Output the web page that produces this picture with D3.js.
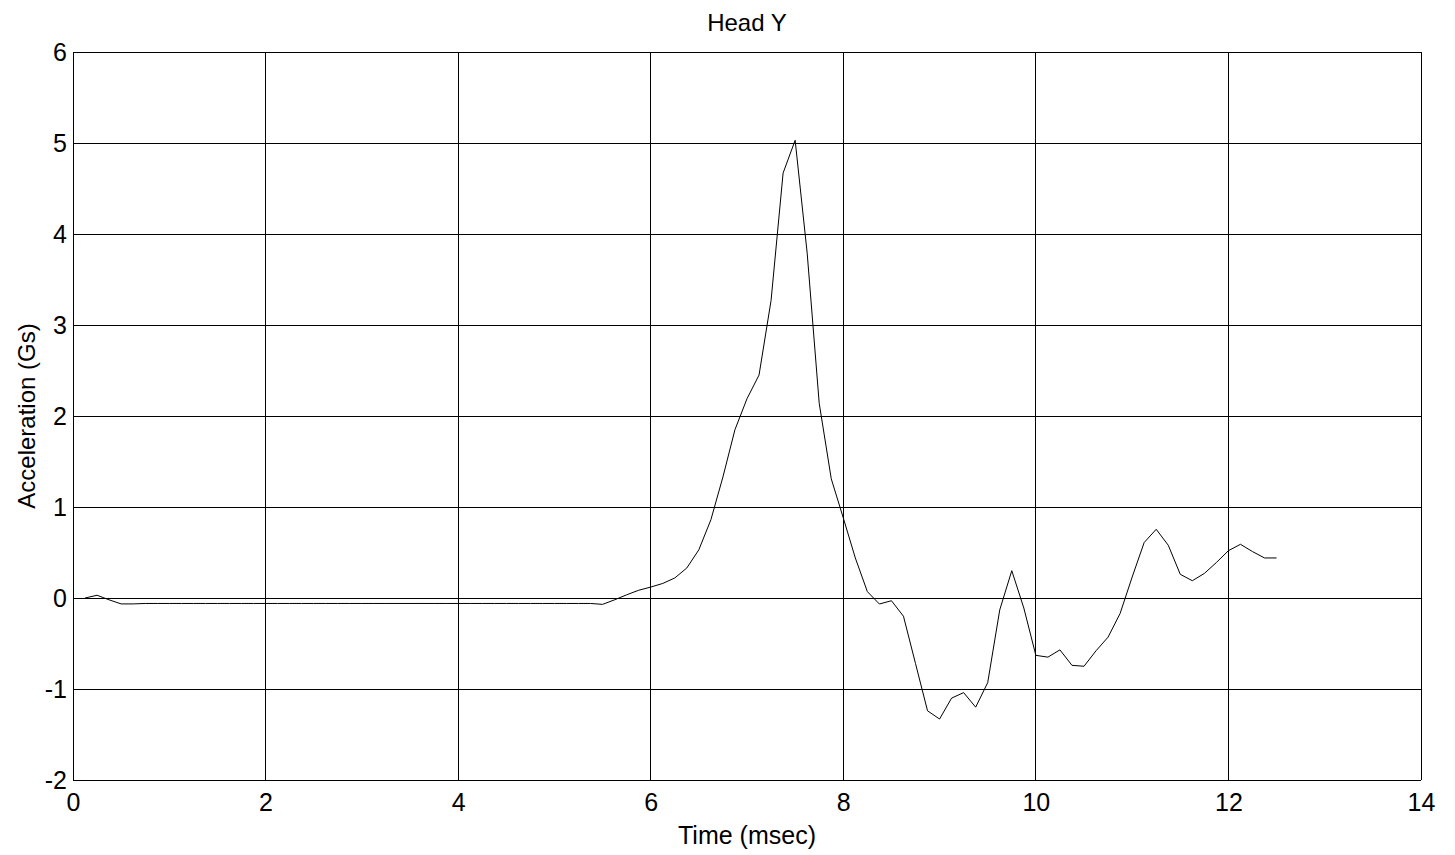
<!DOCTYPE html>
<html>
<head>
<meta charset="utf-8">
<script src="https://cdn.jsdelivr.net/npm/d3@7"></script>
<style>
  html, body { margin: 0; padding: 0; background: #fff; }
  svg { display: block; }
  text { font-family: "Liberation Sans", Arial, sans-serif; fill: #000; }
</style>
</head>
<body>
<svg id="chart" width="1455" height="855"></svg>
<script>
const title = "Head Y";
const xLabel = "Time (msec)";
const yLabel = "Acceleration (Gs)";
const xTicks = [0, 2, 4, 6, 8, 10, 12, 14];
const yTicks = [-2, -1, 0, 1, 2, 3, 4, 5, 6];

const timeMs = [
  0.125, 0.25, 0.375, 0.5, 0.625, 0.75, 0.875, 1.0, 1.125, 1.25,
  1.375, 1.5, 1.625, 1.75, 1.875, 2.0, 2.125, 2.25, 2.375, 2.5,
  2.625, 2.75, 2.875, 3.0, 3.125, 3.25, 3.375, 3.5, 3.625, 3.75,
  3.875, 4.0, 4.125, 4.25, 4.375, 4.5, 4.625, 4.75, 4.875, 5.0,
  5.125, 5.25, 5.375, 5.5, 5.625, 5.75, 5.875, 6.0, 6.125, 6.25,
  6.375, 6.5, 6.625, 6.75, 6.875, 7.0, 7.125, 7.25, 7.375, 7.5,
  7.625, 7.75, 7.875, 8.0, 8.125, 8.25, 8.375, 8.5, 8.625, 8.75,
  8.875, 9.0, 9.125, 9.25, 9.375, 9.5, 9.625, 9.75, 9.875, 10.0,
  10.125, 10.25, 10.375, 10.5, 10.625, 10.75, 10.875, 11.0, 11.125, 11.25,
  11.375, 11.5, 11.625, 11.75, 11.875, 12.0, 12.125, 12.25, 12.375, 12.5
];
const accelG = [
  0.00, 0.03, -0.02, -0.065, -0.065, -0.06, -0.06, -0.06, -0.06, -0.06,
  -0.06, -0.06, -0.06, -0.06, -0.06, -0.06, -0.06, -0.06, -0.06, -0.06,
  -0.06, -0.06, -0.06, -0.06, -0.06, -0.06, -0.06, -0.06, -0.06, -0.06,
  -0.06, -0.06, -0.06, -0.06, -0.06, -0.06, -0.06, -0.06, -0.06, -0.06,
  -0.06, -0.06, -0.06, -0.07, -0.02, 0.035, 0.085, 0.12, 0.16, 0.22,
  0.33, 0.53, 0.86, 1.33, 1.85, 2.19, 2.45, 3.27, 4.67, 5.03,
  3.79, 2.14, 1.31, 0.88, 0.44, 0.07, -0.066, -0.03, -0.2, -0.72,
  -1.24, -1.33, -1.10, -1.04, -1.20, -0.93, -0.13, 0.30, -0.11, -0.63,
  -0.65, -0.57, -0.74, -0.75, -0.58, -0.43, -0.17, 0.23, 0.61, 0.755,
  0.58, 0.26, 0.19, 0.27, 0.39, 0.52, 0.59, 0.51, 0.44, 0.44
];

const W = 1455, H = 855;
const margin = { left: 73, top: 52, right: 34, bottom: 75 };
const svg = d3.select("#chart");

const x = d3.scaleLinear().domain([0, 14]).range([margin.left, W - margin.right]);
const y = d3.scaleLinear().domain([-2, 6]).range([H - margin.bottom, margin.top]);

// Grid
const grid = svg.append("g").attr("stroke", "#000").attr("stroke-width", 1).attr("shape-rendering", "crispEdges");
grid.selectAll("line.v").data(xTicks).join("line")
  .attr("x1", d => x(d)).attr("x2", d => x(d))
  .attr("y1", y(-2)).attr("y2", y(6));
grid.selectAll("line.h").data(yTicks).join("line")
  .attr("x1", x(0)).attr("x2", x(14))
  .attr("y1", d => y(d)).attr("y2", d => y(d));

const fmt = d => String(d);

// Axes
const xAxis = svg.append("g")
  .attr("transform", `translate(0,${y(-2)})`)
  .call(d3.axisBottom(x).tickValues(xTicks).tickSize(0).tickPadding(13).tickFormat(fmt));
xAxis.select(".domain").remove();
xAxis.selectAll("text").style("font-size", "25px").style("font-family", "Liberation Sans, Arial, sans-serif");

const yAxis = svg.append("g")
  .attr("transform", `translate(${x(0)},0)`)
  .call(d3.axisLeft(y).tickValues(yTicks).tickSize(0).tickPadding(6).tickFormat(fmt));
yAxis.select(".domain").remove();
yAxis.selectAll("text").style("font-size", "25px").style("font-family", "Liberation Sans, Arial, sans-serif");

// Line
const pts = timeMs.map((t, i) => [t, accelG[i]]);
svg.append("path")
  .datum(pts)
  .attr("fill", "none")
  .attr("stroke", "#000")
  .attr("stroke-width", 1)
  .attr("d", d3.line().x(d => x(d[0])).y(d => y(d[1])));

// Labels
svg.append("text").attr("x", (x(0) + x(14)) / 2).attr("y", 31)
  .attr("text-anchor", "middle").style("font-size", "24px").text(title);
svg.append("text").attr("x", (x(0) + x(14)) / 2).attr("y", 844)
  .attr("text-anchor", "middle").style("font-size", "25px").text(xLabel);
svg.append("text")
  .attr("transform", `translate(35,${(y(-2) + y(6)) / 2}) rotate(-90)`)
  .attr("text-anchor", "middle").style("font-size", "24px").text(yLabel);
</script>
</body>
</html>
